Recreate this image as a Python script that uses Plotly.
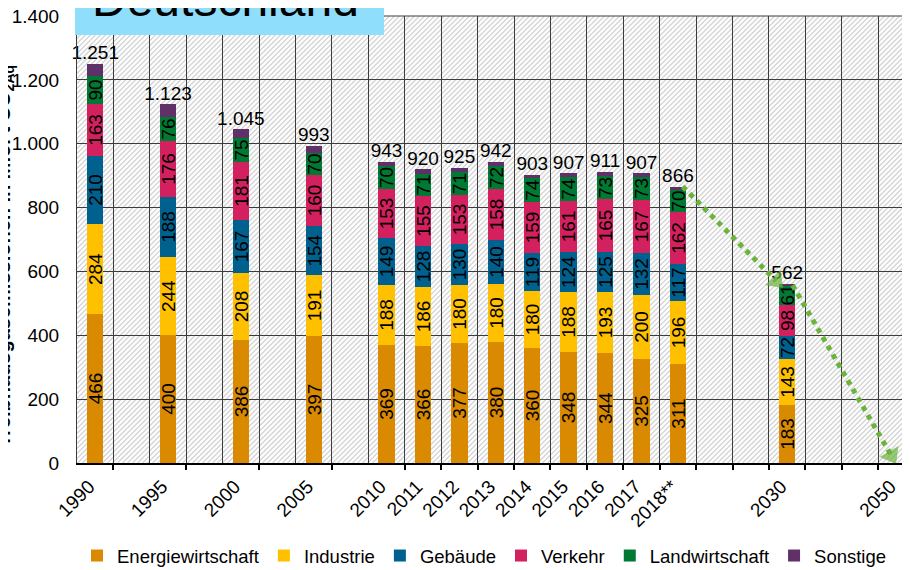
import plotly.graph_objects as go

# ---------------- data ----------------
years = ["1990", "1995", "2000", "2005", "2010", "2011", "2012", "2013",
         "2014", "2015", "2016", "2017", "2018**", "2030"]
# position of each category on the (evenly spaced) time axis
slots = [0, 2, 4, 6, 8, 9, 10, 11, 12, 13, 14, 15, 16, 19]

energie = [466, 400, 386, 397, 369, 366, 377, 380, 360, 348, 344, 325, 311, 183]
industrie = [284, 244, 208, 191, 188, 186, 180, 180, 180, 188, 193, 200, 196, 143]
gebaeude = [210, 188, 167, 154, 149, 128, 130, 140, 119, 124, 125, 132, 117, 72]
verkehr = [163, 176, 181, 160, 153, 155, 153, 158, 159, 161, 165, 167, 162, 98]
landwirtschaft = [90, 76, 75, 70, 70, 71, 71, 72, 74, 74, 73, 73, 70, 61]
sonstige = [38, 39, 28, 21, 14, 14, 14, 12, 11, 12, 11, 10, 10, 5]
totals = [1251, 1123, 1045, 993, 943, 920, 925, 942, 903, 907, 911, 907, 866, 562]

tick_labels = years + ["2050"]
tick_slots = slots + [22]

# trend arrow: 2018 -> 2030 -> 2050 (target 0)
trend_slots = [16, 19, 22]
trend_values = [866, 562, 0]

series = [
    ("Energiewirtschaft", energie, "#D98A00", True),
    ("Industrie", industrie, "#FFC000", True),
    ("Gebäude", gebaeude, "#00618E", True),
    ("Verkehr", verkehr, "#D3215F", True),
    ("Landwirtschaft", landwirtschaft, "#007A33", True),
    ("Sonstige", sonstige, "#603068", False),
]

FONT = "Arial, Liberation Sans, sans-serif"
W, H = 910, 570
OFF = 8                      # page offset of the figure inside the browser window
ML, MT, MB = 69, 8, 115
PW, PH = W - ML, H - MT - MB
SLOT_PX = 36.42
XMAX = -0.5 + PW / SLOT_PX

fig = go.Figure()

for name, vals, color, labelled in series:
    fig.add_trace(go.Bar(
        x=slots, y=vals, name=name, width=0.45,
        marker=dict(color=color, line=dict(width=0)),
        text=vals if labelled else None,
        texttemplate="%{text}" if labelled else None,
        textposition="inside" if labelled else "none",
        textangle=-90, insidetextanchor="middle", constraintext="none",
        insidetextfont=dict(family=FONT, size=19, color="black"),
        hoverinfo="skip",
    ))

# totals above bars
fig.add_trace(go.Scatter(
    x=slots, y=totals, mode="text", texttemplate="%{y:,}",
    textposition="top center", textfont=dict(family=FONT, size=19, color="black"),
    showlegend=False, hoverinfo="skip", cliponaxis=False,
))

# trend arrows (dotted, green)
green = "#6AB43C"
segs = [
    ([trend_slots[0] + 0.13, trend_slots[1] - 0.3], [trend_values[0], trend_values[1] + 8]),
    ([trend_slots[1] + 0.15, trend_slots[2] - 0.14], [trend_values[1] - 5, trend_values[2] + 23]),
]
for sx, sy in segs:
    fig.add_trace(go.Scatter(
        x=sx, y=sy, mode="lines+markers",
        line=dict(color=green, width=5, dash="5px,5px"),
        marker=dict(symbol="triangle-up", size=[0, 19], color=green,
                    angleref="previous", line=dict(width=0)),
        showlegend=False, hoverinfo="skip", cliponaxis=False,
    ))

# hidden axis only for tick marks at selected slot boundaries
fig.add_trace(go.Scatter(x=[0], y=[0], xaxis="x2", mode="markers",
                         marker=dict(opacity=0, size=1), showlegend=False, hoverinfo="skip"))

# hatched background: one path of diagonal lines, clipped to the plot area (paper coords)
step = 5.0
parts = []
c = step / 2
while c < PW + PH:
    x1 = max(0.0, c - PH)
    x2 = min(float(PW), c)
    y1 = c - x1
    y2 = c - x2
    parts.append(f"M{x1 / PW:.5f},{1 - y1 / PH:.5f}L{x2 / PW:.5f},{1 - y2 / PH:.5f}")
    c += step
hatch_path = "".join(parts)

boundaries_all = [b - 0.5 for b in range(0, 24)]
tickmark_pos = [0.5, 2.5, 4.5, 6.5] + [b + 0.5 for b in range(8, 22)]


def px_x(p):
    """screen pixel x -> paper fraction"""
    return (p - OFF - ML) / PW


def px_y(p):
    """screen pixel y -> paper fraction"""
    return (H - MB - (p - OFF)) / PH


fig.update_layout(
    width=W, height=H,
    margin=dict(l=ML, r=0, t=MT, b=MB, autoexpand=False),
    paper_bgcolor="white", plot_bgcolor="white",
    barmode="stack", bargap=0,
    separators=",.",
    font=dict(family=FONT, size=19, color="black"),
    xaxis=dict(
        range=[-0.5, XMAX], tickmode="array", tickvals=tick_slots, ticktext=tick_labels,
        tickangle=-45, ticks="", showgrid=False, zeroline=False, automargin=False,
        showline=True, linecolor="black", linewidth=2,
        ticklabelshift=-6, ticklabelstandoff=3, ticklabeloverflow="allow",
        tickfont=dict(family=FONT, size=19, color="black"),
        minor=dict(tickmode="array", tickvals=boundaries_all, showgrid=True,
                   gridcolor="#3c3c3c", gridwidth=1, ticks=""),
    ),
    xaxis2=dict(
        overlaying="x", side="bottom", range=[-0.5, XMAX], automargin=False,
        tickmode="array", tickvals=tickmark_pos, showticklabels=False,
        ticks="outside", ticklen=6, tickwidth=1.5, tickcolor="black",
        showgrid=False, zeroline=False, showline=False,
    ),
    yaxis=dict(
        range=[0, 1400], tickmode="linear", tick0=0, dtick=200, tickformat=",d",
        showgrid=True, gridcolor="#3c3c3c", gridwidth=1, zeroline=False,
        showline=True, linecolor="#3c3c3c", linewidth=1, automargin=False,
        ticks="", ticklabelstandoff=13, ticklabeloverflow="allow",
        tickfont=dict(family=FONT, size=19, color="black"),
    ),
    legend=dict(orientation="h", xref="container", yref="container",
                x=69 / W, xanchor="left", y=(H - 548) / H,
                yanchor="middle", traceorder="normal",
                font=dict(family=FONT, size=18.5, color="black"),
                bgcolor="rgba(0,0,0,0)"),
    shapes=[
        dict(type="path", xref="paper", yref="paper", path=hatch_path,
             line=dict(color="#d4d4d4", width=1.3), layer="below"),
        dict(type="line", xref="paper", yref="paper", x0=0, x1=1, y0=1, y1=1,
             line=dict(color="#3c3c3c", width=1)),
        dict(type="rect", xref="paper", yref="paper", x0=px_x(75), x1=px_x(384),
             y0=px_y(35), y1=px_y(-10), fillcolor="#8FDEFB", line=dict(width=0), layer="above"),
    ],
    annotations=[
        dict(text="Deutschland", xref="paper", yref="paper", x=px_x(90), y=px_y(-1),
             xanchor="left", yanchor="middle", showarrow=False,
             font=dict(family=FONT, size=48, color="black")),
        dict(text="<b>Treibhausgasemissionen in Mio. t CO<sub>2Äq</sub></b>",
             xref="paper", yref="paper", x=px_x(4), y=px_y(256),
             xanchor="center", yanchor="middle", textangle=-90, showarrow=False,
             font=dict(family=FONT, size=20, color="black")),
    ],
)

fig.write_html("out.html")
